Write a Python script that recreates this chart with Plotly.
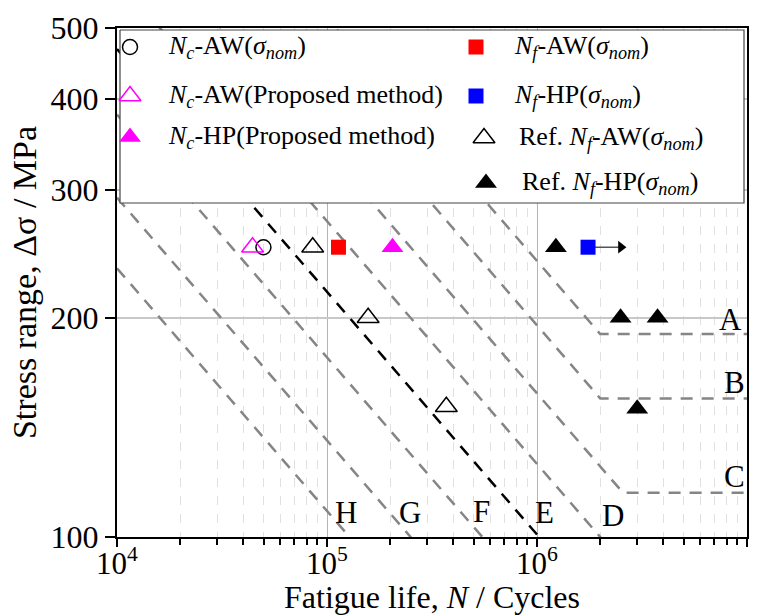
import numpy as np
import plotly.graph_objects as go

FONT = "Liberation Serif"

# ---- JSSC fatigue design curve classes (S at 2e6 cycles, constant-amplitude cut-off) ----
class_names = ["A", "B", "C", "D", "E", "F", "G", "H"]
class_S_2e6 = [190, 155, 125, 100, 80, 65, 50, 40]
class_cutoff = [190, 155, 115, 84, 62, 46, 32, 23]
class_colors = ["#858585", "#858585", "#858585", "#858585", "black", "#858585", "#858585", "#858585"]

# label positions for classes (N, S)
label_right_names = ["A", "B", "C"]
label_right_N = [8.3e6, 8.7e6, 8.7e6]
label_right_S = [199, 163, 121]
label_bottom_names = ["H", "G", "F", "E", "D"]
label_bottom_N = [1.23e5, 2.48e5, 5.47e5, 1.09e6, 2.3e6]
label_bottom_S = [108, 108, 108.5, 108, 107]

# ---- test data ----
nc_aw_N = [4.98e4]
nc_aw_S = [250]
nc_aw_prop_N = [4.42e4]
nc_aw_prop_S = [250]
nc_hp_prop_N = [2.05e5]
nc_hp_prop_S = [250]
nf_aw_N = [1.134e5]
nf_aw_S = [250]
nf_hp_N = [1.75e6]
nf_hp_S = [250]
ref_aw_N = [8.55e4, 1.57e5, 3.7e5]
ref_aw_S = [250, 200, 151]
ref_hp_N = [1.23e6, 2.5e6, 3.75e6, 3.0e6]
ref_hp_S = [250, 200, 200, 150]
runout_N = [1.75e6, 2.51e6]
runout_S = [250, 250]

x_tick_vals = [1e4, 1e5, 1e6, 1e7]
x_tick_text = ["10<sup>4</sup>", "10<sup>5</sup>", "10<sup>6</sup>", "10<sup>7</sup>"]
y_tick_vals = [100, 200, 300, 400, 500]
y_tick_text = ["100", "200", "300", "400", "500"]

fig = go.Figure()

# design curves
for name, s2, sc, col in zip(class_names, class_S_2e6, class_cutoff, class_colors):
    n0 = 1e4
    s0 = s2 * (2e6 / n0) ** (1 / 3)
    nk = 2e6 * (s2 / sc) ** 3
    if nk < 1e7:
        xs, ys = [n0, nk, 1e7], [s0, sc, sc]
    else:
        xs, ys = [n0, nk], [s0, sc]
    fig.add_trace(go.Scatter(x=xs, y=ys, mode="lines",
                             line=dict(color=col, width=2.5, dash="12px,9px"),
                             hoverinfo="skip", showlegend=False))

TRI = 19
# series definitions (marker styles)
series = [
    dict(N=nc_aw_N, S=nc_aw_S, symbol="circle-open", size=15, color="black", lw=1.5,
         label="<i>N</i><sub><i>c</i></sub>-AW(<i>σ</i><sub><i>nom</i></sub>)", lx=130, ly=47, tx=166),
    dict(N=nc_aw_prop_N, S=nc_aw_prop_S, symbol="triangle-up-open", size=TRI, color="magenta", lw=1.5,
         label="<i>N</i><sub><i>c</i></sub>-AW(Proposed method)", lx=130, ly=96, tx=166),
    dict(N=nc_hp_prop_N, S=nc_hp_prop_S, symbol="triangle-up", size=TRI, color="magenta", lw=0,
         label="<i>N</i><sub><i>c</i></sub>-HP(Proposed method)", lx=130, ly=137, tx=166),
    dict(N=nf_aw_N, S=nf_aw_S, symbol="square", size=15, color="red", lw=0,
         label="<i>N</i><sub><i>f</i></sub>-AW(<i>σ</i><sub><i>nom</i></sub>)", lx=476, ly=47, tx=512),
    dict(N=nf_hp_N, S=nf_hp_S, symbol="square", size=15, color="blue", lw=0,
         label="<i>N</i><sub><i>f</i></sub>-HP(<i>σ</i><sub><i>nom</i></sub>)", lx=476, ly=96, tx=512),
    dict(N=ref_aw_N, S=ref_aw_S, symbol="triangle-up-open", size=TRI, color="black", lw=1.5,
         label="Ref. <i>N</i><sub><i>f</i></sub>-AW(<i>σ</i><sub><i>nom</i></sub>)", lx=484, ly=138, tx=517),
    dict(N=ref_hp_N, S=ref_hp_S, symbol="triangle-up", size=TRI, color="black", lw=0,
         label="Ref. <i>N</i><sub><i>f</i></sub>-HP(<i>σ</i><sub><i>nom</i></sub>)", lx=486, ly=183, tx=520),
]

# runout arrow line (drawn below the marker)
fig.add_trace(go.Scatter(x=runout_N, y=runout_S, mode="lines",
                         line=dict(color="#555555", width=1.5),
                         hoverinfo="skip", showlegend=False))

for s in series:
    fig.add_trace(go.Scatter(x=s["N"], y=s["S"], mode="markers",
                             marker=dict(symbol=s["symbol"], size=s["size"], color=s["color"],
                                         line=dict(color=s["color"], width=s["lw"])),
                             showlegend=False))

# arrow head of runout
fig.add_trace(go.Scatter(x=[runout_N[1]], y=[runout_S[1]], mode="markers",
                         marker=dict(symbol="triangle-right", size=11, color="black", line=dict(width=0)),
                         hoverinfo="skip", showlegend=False))

# ---- custom legend on an overlay axis (plot area coordinates 0..1) ----
L, R, T, B = 117, 747, 28, 537
def px(x):
    return (x - L) / (R - L)
def py(y):
    return (B - y) / (B - T)

bx = [px(120), px(744), px(744), px(120), px(120)]
by = [py(30), py(30), py(203), py(203), py(30)]
fig.add_trace(go.Scatter(x=bx, y=by, xaxis="x2", yaxis="y2", mode="lines", fill="toself",
                         fillcolor="white", line=dict(color="#444444", width=1.2),
                         hoverinfo="skip", showlegend=False))
annotations = []
for s in series:
    fig.add_trace(go.Scatter(x=[px(s["lx"])], y=[py(s["ly"])], xaxis="x2", yaxis="y2", mode="markers",
                             marker=dict(symbol=s["symbol"], size=s["size"], color=s["color"],
                                         line=dict(color=s["color"], width=s["lw"])),
                             hoverinfo="skip", showlegend=False))
    annotations.append(dict(x=px(s["tx"]), y=py(s["ly"]), xref="paper", yref="paper",
                            text=s["label"], showarrow=False, xanchor="left", yanchor="middle",
                            font=dict(family=FONT, size=26, color="black")))

for n, xv, yv in zip(label_right_names, label_right_N, label_right_S):
    annotations.append(dict(x=np.log10(xv), y=np.log10(yv), xref="x", yref="y", text=n,
                            showarrow=False, font=dict(family=FONT, size=31, color="black")))
for n, xv, yv in zip(label_bottom_names, label_bottom_N, label_bottom_S):
    annotations.append(dict(x=np.log10(xv), y=np.log10(yv), xref="x", yref="y", text=n,
                            showarrow=False, font=dict(family=FONT, size=31, color="black")))

minor_vals = [m * 10 ** e for e in range(4, 7) for m in range(2, 10)]

fig.update_layout(
    width=768, height=615,
    margin=dict(l=L, r=768 - R, t=T, b=615 - B, autoexpand=False),
    paper_bgcolor="white", plot_bgcolor="white",
    font=dict(family=FONT, color="black"),
    annotations=annotations,
    xaxis=dict(type="log", range=[4, 7], tickmode="array", tickvals=x_tick_vals, ticktext=x_tick_text,
               tickfont=dict(family=FONT, size=31, color="black"), ticklabelstandoff=-10,
               ticks="outside", ticklen=8, tickwidth=1.5, tickcolor="black",
               showline=True, linewidth=2, linecolor="black", mirror=True,
               showgrid=True, gridcolor="#b4b4b4", gridwidth=1,
               minor=dict(tickvals=minor_vals, ticks="outside", ticklen=6, tickwidth=1.5, tickcolor="black",
                          showgrid=True, gridcolor="#e0e0e0", griddash="dash", gridwidth=1),
               title=dict(text="Fatigue life, <i>N</i> / Cycles", font=dict(family=FONT, size=32), standoff=11),
               automargin=False, zeroline=False),
    yaxis=dict(type="log", range=[2, np.log10(500)], tickmode="array", tickvals=y_tick_vals,
               ticktext=y_tick_text, tickfont=dict(family=FONT, size=32, color="black"),
               ticks="outside", ticklen=10, tickwidth=1.5, tickcolor="black",
               showline=True, linewidth=2, linecolor="black", mirror=True,
               showgrid=True, gridcolor="#c8c8c8", gridwidth=1.5,
               title=dict(text="Stress range, Δσ / MPa", font=dict(family=FONT, size=34), standoff=4),
               automargin=False, zeroline=False),
    xaxis2=dict(overlaying="x", anchor="y2", range=[0, 1], visible=False, fixedrange=True),
    yaxis2=dict(overlaying="y", anchor="x2", range=[0, 1], visible=False, fixedrange=True),
    showlegend=False,
)

fig.write_html("out.html")
